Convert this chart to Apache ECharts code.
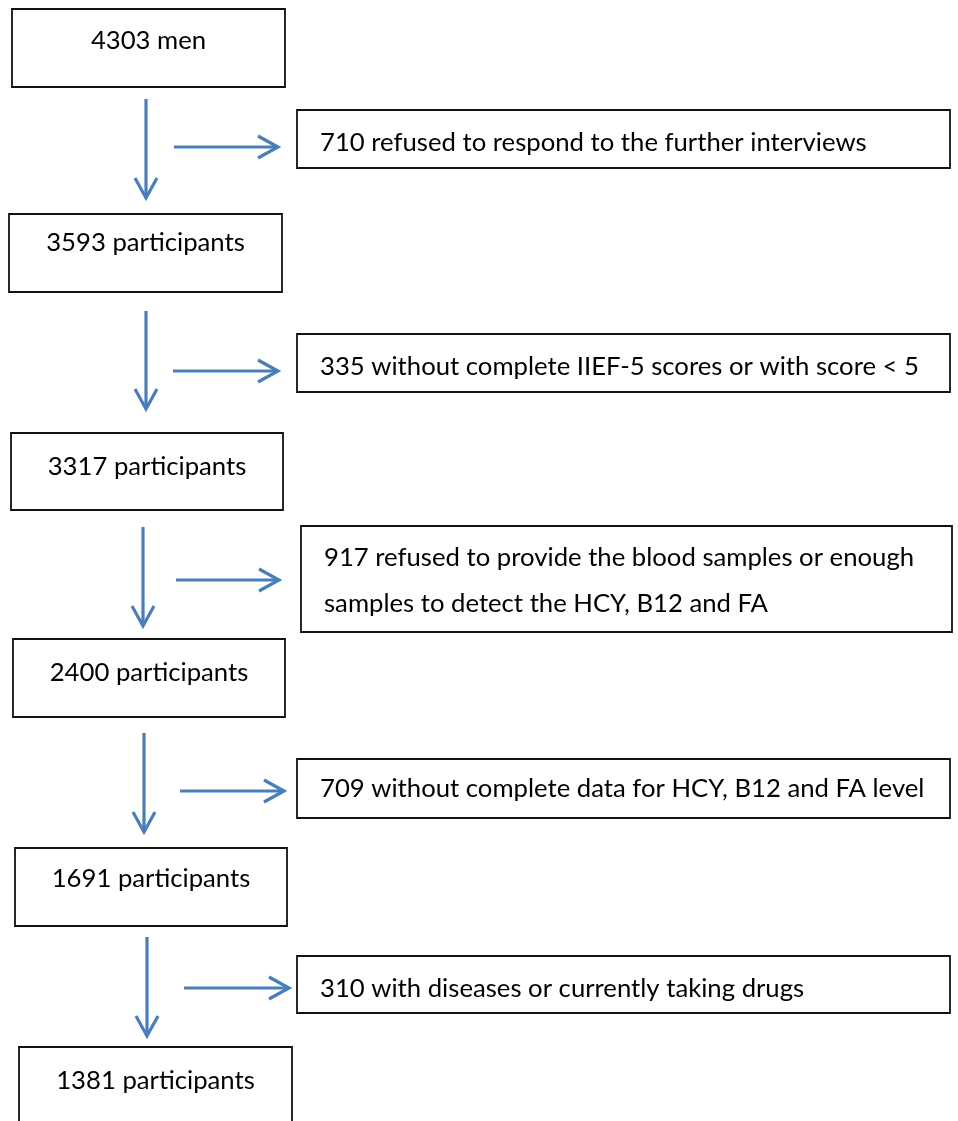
<!DOCTYPE html>
<html><head><meta charset="utf-8">
<script src="https://cdn.jsdelivr.net/npm/echarts@6/dist/echarts.min.js"></script>
<style>html,body{margin:0;padding:0;background:#fff}#c{width:958px;height:1121px}</style>
</head><body><div id="c"></div>
<script>
// ---- data: flow stages and exclusions ----
const stageCounts = [4303, 3593, 3317, 2400, 1691, 1381];
const stageLabels = ['4303 men', '3593 participants', '3317 participants', '2400 participants', '1691 participants', '1381 participants'];
const excludedCounts = [710, 335, 917, 709, 310];
const excludedLabels = [
  ['710 refused to respond to the further interviews'],
  ['335 without complete IIEF-5 scores or with score < 5'],
  ['917 refused to provide the blood samples or enough', 'samples to detect the HCY, B12 and FA'],
  ['709 without complete data for HCY, B12 and FA level'],
  ['310 with diseases or currently taking drugs']
];

// ---- layout (in axis units = page pixels) ----
const stageBoxes = [[12,9,285,87],[9,214,282,292],[11,433,283,510],[13,639,285,717],[15,848,287,926],[19,1047,292,1130]];
const stageTextY = [41, 243, 467, 673, 879, 1081];
const exclBoxes = [[297,110,950,168],[297,334,950,392],[301,526,952,632],[297,759,950,818],[297,956,950,1013]];
const exclTextY = [[143],[367],[558,604],[789],[989]];
const downArrows = [[146,99,199],[146,311,410],[143,527,627],[144,733,833],[147,937,1037]];
const sideArrows = [[174,279,147],[173,279,371],[176,280,580],[180,285,791],[184,290,988]];

const FONT = '25.7px Lato';
const BLUE = '#4A7EBB';

const chart = echarts.init(document.getElementById('c'), null, {renderer:'canvas'});

function boxSeries(boxes, textFn) {
  return {
    type: 'custom', coordinateSystem: 'cartesian2d', clip: false, silent: true,
    data: boxes.map((b, i) => [b[0], b[1], b[2], b[3], i]),
    renderItem: function (params, api) {
      const i = api.value(4);
      const p0 = api.coord([api.value(0), api.value(1)]);
      const p1 = api.coord([api.value(2), api.value(3)]);
      const children = [{
        type: 'rect',
        shape: {x: p0[0], y: p0[1], width: p1[0] - p0[0], height: p1[1] - p0[1]},
        style: {fill: '#fff', stroke: '#111', lineWidth: 1.8}
      }];
      textFn(i, p0, p1, api).forEach(t => children.push(t));
      return {type: 'group', children: children};
    }
  };
}

const stageSeries = boxSeries(stageBoxes, (i, p0, p1, api) => {
  const c = api.coord([0, stageTextY[i]]);
  return [{type: 'text', style: {text: stageLabels[i], x: (p0[0] + p1[0]) / 2, y: c[1], font: FONT, fill: '#000', align: 'center', verticalAlign: 'middle'}}];
});
const exclSeries = boxSeries(exclBoxes, (i, p0, p1, api) => {
  return excludedLabels[i].map((line, k) => {
    const c = api.coord([0, exclTextY[i][k]]);
    return {type: 'text', style: {text: line, x: p0[0] + 23, y: c[1], font: FONT, fill: '#000', align: 'left', verticalAlign: 'middle'}};
  });
});

const HEAD_L = 21, HEAD_W = 11;
const downSeries = {
  type: 'custom', coordinateSystem: 'cartesian2d', clip: false, silent: true,
  data: downArrows,
  renderItem: function (params, api) {
    const a = api.coord([api.value(0), api.value(1)]);
    const b = api.coord([api.value(0), api.value(2)]);
    const st = {stroke: BLUE, lineWidth: 3.2, fill: null, lineCap: 'butt', lineJoin: 'miter'};
    return {type: 'group', children: [
      {type: 'line', shape: {x1: a[0], y1: a[1], x2: b[0], y2: b[1] - 2}, style: st},
      {type: 'polyline', shape: {points: [[b[0] - HEAD_W, b[1] - HEAD_L], [b[0], b[1] - 1], [b[0] + HEAD_W, b[1] - HEAD_L]]}, style: st}
    ]};
  }
};
const sideSeries = {
  type: 'custom', coordinateSystem: 'cartesian2d', clip: false, silent: true,
  data: sideArrows,
  renderItem: function (params, api) {
    const a = api.coord([api.value(0), api.value(2)]);
    const b = api.coord([api.value(1), api.value(2)]);
    const st = {stroke: BLUE, lineWidth: 3.2, fill: null, lineCap: 'butt', lineJoin: 'miter'};
    return {type: 'group', children: [
      {type: 'line', shape: {x1: a[0], y1: a[1], x2: b[0] - 2, y2: b[1]}, style: st},
      {type: 'polyline', shape: {points: [[b[0] - HEAD_L, b[1] - HEAD_W], [b[0] - 1, b[1]], [b[0] - HEAD_L, b[1] + HEAD_W]]}, style: st}
    ]};
  }
};

chart.setOption({
  animation: false,
  backgroundColor: '#fff',
  grid: {left: 0, right: 0, top: 0, bottom: 0},
  xAxis: {type: 'value', min: 0, max: 958, show: false},
  yAxis: {type: 'value', min: 0, max: 1121, inverse: true, show: false},
  series: [downSeries, sideSeries, stageSeries, exclSeries]
});
</script></body></html>
